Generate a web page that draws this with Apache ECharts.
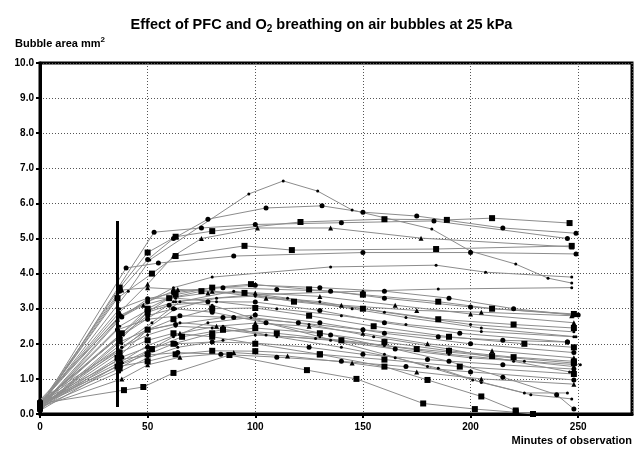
<!DOCTYPE html>
<html><head><meta charset="utf-8">
<script src="https://cdn.jsdelivr.net/npm/echarts@6/dist/echarts.min.js"></script>
<style>html,body{margin:0;padding:0;background:#fff}#c{width:643px;height:450px}</style>
</head><body><div id="c"></div>
<script>
// x tick labels and y tick labels
const xTicks = [0, 50, 100, 150, 200, 250];
const yTicks = [0,1,2,3,4,5,6,7,8,9,10];
// vertical marker (minutes, area range)
const markerBar = [[36, 0.2], [36, 5.5]];

// each subject: [minutes, bubble area mm2]
const s01 = [[0,0.25],[41,3.5],[51,4.39],[97,6.27],[113,6.64],[129,6.35],[145,5.81],[182,5.27],[200,4.64],[221,4.27],[236,3.87],[247,3.73]];
const s02 = [[0,0.3],[37,3.5],[50,4.4],[62,5.0],[78,5.55],[105,5.87],[131,5.93],[150,5.75],[175,5.64],[215,5.3],[249,5.15]];
const s03 = [[0,0.2],[37,3.6],[50,4.6],[63,5.05],[80,5.21],[121,5.47],[160,5.55],[189,5.53],[210,5.58],[246,5.44]];
const s04 = [[0,0.15],[53,5.18],[75,5.3],[100,5.4],[140,5.45],[183,5.5],[245,5.0]];
const s05 = [[0,0.3],[37,2.9],[50,3.7],[62,4.5],[75,5.0],[101,5.3],[135,5.3],[177,5.01],[247,4.76]];
const s06 = [[0,0.25],[36,3.3],[52,4.0],[63,4.5],[95,4.79],[117,4.67],[184,4.7],[247,4.79]];
const s07 = [[0,0.2],[38,2.8],[62,3.6],[80,3.9],[135,4.19],[184,4.24],[207,4.04],[247,3.9]];
const s08 = [[0,0.3],[37,2.2],[62,3.2],[100,3.4],[150,3.5],[185,3.56],[247,3.6]];
const s09 = [[0,0.2],[40,4.16],[55,4.3],[90,4.5],[150,4.6],[200,4.6],[249,4.56]];
const s10 = [[0,0.2],[38,2.3],[50,3.0],[63,3.4],[80,3.6],[98,3.7],[125,3.55],[150,3.4],[185,3.2],[210,3.0],[248,2.85]];
const s11 = [[0,0.3],[37,2.8],[50,3.2],[62,3.5],[85,3.6],[110,3.55],[135,3.5],[160,3.3],[200,3.05],[250,2.82]];
const s12 = [[0,0.25],[38,3.53],[50,3.6],[64,3.55],[80,3.5],[105,3.3],[140,3.1],[175,2.95],[205,2.9],[247,2.8]];
const s13 = [[0,0.15],[37,2.1],[50,2.9],[60,3.3],[75,3.5],[95,3.45],[118,3.2],[150,3.0],[185,2.7],[220,2.55],[248,2.45]];
const s14 = [[0,0.35],[37,1.8],[50,2.45],[63,3.0],[82,3.3],[100,3.36],[130,3.2],[160,2.9],[200,2.55],[248,2.34]];
const s15 = [[0,0.2],[38,2.0],[52,2.6],[65,3.2],[90,3.5],[115,3.3],[145,3.0],[170,2.75],[205,2.45],[249,2.2]];
const s16 = [[0,0.3],[37,2.25],[50,2.9],[60,3.1],[78,3.2],[100,3.19],[130,2.95],[160,2.6],[195,2.3],[245,2.05]];
const s17 = [[0,0.2],[36,1.6],[50,2.4],[62,2.7],[80,3.0],[100,3.02],[125,2.8],[155,2.5],[190,2.2],[225,2.0],[248,1.9]];
const s18 = [[0,0.1],[37,2.05],[50,2.4],[63,2.55],[85,2.75],[100,2.82],[130,2.6],[160,2.3],[200,2.0],[248,1.75]];
const s19 = [[0,0.3],[38,1.5],[50,1.95],[65,2.3],[82,2.5],[100,2.59],[125,2.5],[150,2.3],[180,2.0],[210,1.8],[248,1.6]];
const s20 = [[0,0.25],[37,1.4],[50,1.7],[62,2.0],[80,2.3],[100,2.45],[130,2.3],[160,2.05],[190,1.8],[220,1.62],[248,1.5]];
const s21 = [[0,0.4],[38,1.9],[50,2.25],[63,2.5],[80,2.45],[105,2.25],[135,2.1],[165,1.85],[200,1.6],[251,1.4]];
const s22 = [[0,0.2],[37,1.2],[50,1.6],[64,1.9],[85,2.1],[100,2.25],[128,2.15],[160,1.95],[190,1.7],[225,1.5],[248,1.35]];
const s23 = [[0,0.15],[38,1.62],[50,1.9],[63,2.0],[80,2.05],[100,2.02],[125,1.9],[150,1.7],[180,1.55],[215,1.4],[248,1.28]];
const s24 = [[0,0.3],[36,1.35],[50,1.5],[63,1.7],[80,1.8],[100,1.79],[130,1.7],[160,1.55],[195,1.35],[248,1.14]];
const s25 = [[0,0.35],[37,1.55],[50,1.68],[64,1.75],[84,1.7],[110,1.62],[140,1.5],[170,1.35],[200,1.2],[248,0.97]];
const s26 = [[0,0.2],[38,1.0],[50,1.4],[65,1.62],[90,1.75],[115,1.65],[145,1.45],[175,1.2],[205,1.0],[248,0.85]];
const s27 = [[0,0.3],[39,0.68],[48,0.77],[62,1.17],[88,1.68],[124,1.25],[147,1.0],[178,0.3],[202,0.14],[221,0.05],[229,0.0]];
const s28 = [[0,0.25],[37,2.5],[50,2.96],[63,3.2],[80,3.1],[105,2.6],[130,2.2],[160,1.7],[180,1.35],[201,0.97],[225,0.6],[245,0.6]];
const s29 = [[0,0.2],[38,1.9],[50,2.39],[65,2.6],[85,2.5],[110,2.2],[140,1.9],[165,1.6],[185,1.3],[205,0.9],[228,0.55],[247,0.43]];
const s30 = [[0,0.3],[37,2.2],[50,2.8],[62,3.0],[80,2.9],[105,2.6],[135,2.25],[165,1.85],[190,1.5],[215,1.05],[240,0.55],[248,0.14]];
const s31 = [[0,0.2],[37,1.75],[50,2.1],[62,2.3],[80,2.2],[100,2.0],[130,1.7],[160,1.35],[180,0.97],[205,0.5],[221,0.1]];
const s32 = [[0,0.15],[38,2.76],[50,3.28],[62,3.45],[80,3.59],[100,3.67],[130,3.6],[160,3.5],[190,3.3],[220,3.0],[248,2.82]];
const s33 = [[0,0.4],[36,2.7],[48,3.1],[60,3.3],[78,3.45],[100,3.45],[130,3.35],[165,3.1],[200,2.85],[248,2.6]];
const s34 = [[0,0.25],[37,1.3],[52,1.85],[66,2.2],[85,2.4],[110,2.3],[140,2.1],[175,1.85],[210,1.65],[248,1.45]];
const s35 = [[0,0.1],[38,1.45],[50,1.8],[62,2.2],[78,2.6],[98,2.75],[125,2.55],[155,2.2],[190,1.85],[220,1.5],[246,1.2]];
const s36 = [[0,0.3],[37,3.0],[50,3.3],[63,3.3],[82,3.2],[110,3.0],[140,2.8],[170,2.55],[205,2.35],[248,2.2]];
const s37 = [[0,0.2],[36,2.4],[50,2.7],[65,2.8],[90,2.75],[120,2.6],[150,2.4],[185,2.2],[215,2.1],[245,2.05]];

const subjects = [s01,s02,s03,s04,s05,s06,s07,s08,s09,s10,s11,s12,s13,s14,s15,s16,s17,s18,s19,s20,
  s21,s22,s23,s24,s25,s26,s27,s28,s29,s30,s31,s32,s33,s34,s35,s36,s37];

const symbolCycle = ['dot','circle','rect','circle','triangle','rect','dot'];
const sizeFor = {circle:5, rect:6, triangle:5, dot:3};

const series = subjects.map((d, i) => {
  let sym = symbolCycle[i % symbolCycle.length];
  const size = sizeFor[sym];
  if (sym === 'dot') sym = 'circle';
  return {
    type: 'line', data: d, symbol: sym, symbolSize: size, showSymbol: true,
    lineStyle: {color: '#8c8c8c', width: 1},
    itemStyle: {color: '#000', borderWidth: 0},
    emphasis: {disabled: true}, silent: true, z: 3, animation: false
  };
});
series.push({
  type: 'line', data: markerBar, symbol: 'none',
  lineStyle: {color: '#000', width: 3}, silent: true, z: 5, animation: false
});

const chart = echarts.init(document.getElementById('c'), null, {renderer: 'canvas'});
chart.setOption({
  backgroundColor: '#fff',
  animation: false,
  title: {
    text: '{a|Effect of PFC and O}{s|2}{a| breathing on air bubbles at 25 kPa}',
    left: 'center', top: 10,
    textStyle: {
      rich: {
        a: {fontFamily: 'Liberation Sans, Arial', fontWeight: 'bold', fontSize: 14.5, color: '#000'},
        s: {fontFamily: 'Liberation Sans, Arial', fontWeight: 'bold', fontSize: 10, color: '#000', verticalAlign: 'bottom', padding: [9,0,0,0]}
      }
    }
  },
  graphic: [
    {type: 'text', left: 15, top: 36, style: {
      text: '{a|Bubble area mm}{s|2}',
      rich: {
        a: {fontFamily: 'Liberation Sans, Arial', fontWeight: 'bold', fontSize: 11, fill: '#000'},
        s: {fontFamily: 'Liberation Sans, Arial', fontWeight: 'bold', fontSize: 8, fill: '#000', verticalAlign: 'top', padding: [0,0,8,0]}
      }}},
    {type: 'text', right: 11, top: 435, style: {
      text: 'Minutes of observation', fontFamily: 'Liberation Sans, Arial', fontWeight: 'bold', fontSize: 11, fill: '#000'}}
  ],
  grid: {left: 40, right: 11, top: 63, bottom: 36, show: true, borderColor: '#000', borderWidth: 3, containLabel: false},
  xAxis: {
    type: 'value', min: 0, max: 275, interval: 50,
    axisLine: {show: true, lineStyle: {color: '#000', width: 3}},
    axisTick: {show: true, length: 4, inside: false, lineStyle: {color: '#000', width: 2}},
    axisLabel: {showMaxLabel: false, margin: 8, fontFamily: 'Liberation Sans, Arial', fontWeight: 'bold', fontSize: 10, color: '#000',
      formatter: v => xTicks.includes(v) ? String(v) : ''},
    splitLine: {show: true, lineStyle: {color: '#555', type: [1, 2], width: 1}}
  },
  yAxis: {
    type: 'value', min: 0, max: 10, interval: 1,
    axisLine: {show: true, lineStyle: {color: '#000', width: 3}},
    axisTick: {show: true, length: 4, lineStyle: {color: '#000', width: 2}},
    axisLabel: {margin: 6, fontFamily: 'Liberation Sans, Arial', fontWeight: 'bold', fontSize: 10, color: '#000',
      formatter: v => yTicks.includes(v) ? v.toFixed(1) : ''},
    splitLine: {show: true, lineStyle: {color: '#555', type: [1, 2], width: 1}}
  },
  series: series
});
</script></body></html>
